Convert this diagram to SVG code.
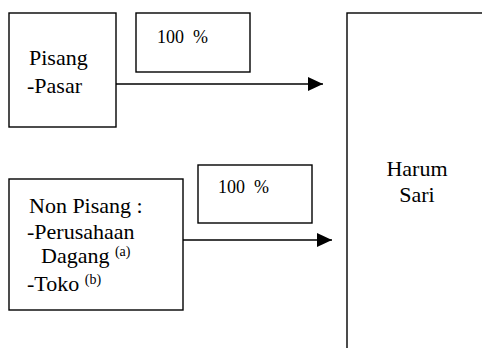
<svg xmlns="http://www.w3.org/2000/svg" width="482" height="348" viewBox="0 0 482 348">
<defs>
<marker id="ah" markerWidth="15" markerHeight="14" refX="15" refY="7" orient="auto" markerUnits="userSpaceOnUse">
<path d="M0,0 L15,7 L0,14 Z" fill="#000"/>
</marker>
</defs>
<rect width="482" height="348" fill="#fff"/>
<g id="pisang">
<rect x="9" y="13" width="107" height="114" fill="#fff" stroke="#000" stroke-width="1.4"/>
<text x="29" y="65" font-family="'Liberation Serif', Tinos, 'Times New Roman', serif" font-size="22">Pisang</text>
<text x="27" y="93" font-family="'Liberation Serif', Tinos, 'Times New Roman', serif" font-size="22">-Pasar</text>
</g>
<g id="label1">
<rect x="136" y="13" width="114" height="59" fill="#fff" stroke="#000" stroke-width="1.4"/>
<text x="157" y="43" font-family="'Liberation Serif', Tinos, 'Times New Roman', serif" font-size="18">100<tspan x="193">%</tspan></text>
</g>
<g id="nonpisang">
<rect x="9" y="179" width="174" height="131" fill="#fff" stroke="#000" stroke-width="1.4"/>
<text x="29" y="213" font-family="'Liberation Serif', Tinos, 'Times New Roman', serif" font-size="22">Non Pisang :</text>
<text x="27" y="239" font-family="'Liberation Serif', Tinos, 'Times New Roman', serif" font-size="22">-Perusahaan</text>
<text x="41" y="263" font-family="'Liberation Serif', Tinos, 'Times New Roman', serif" font-size="22">Dagang <tspan font-size="14" dy="-7">(a)</tspan></text>
<text x="27" y="291" font-family="'Liberation Serif', Tinos, 'Times New Roman', serif" font-size="22">-Toko <tspan font-size="14" dy="-7">(b)</tspan></text>
</g>
<g id="label2">
<rect x="198" y="165" width="114" height="58" fill="#fff" stroke="#000" stroke-width="1.4"/>
<text x="218" y="193" font-family="'Liberation Serif', Tinos, 'Times New Roman', serif" font-size="18">100<tspan x="254">%</tspan></text>
</g>
<g id="harumsari">
<rect x="347" y="13" width="145" height="345" fill="#fff" stroke="#000" stroke-width="1.4"/>
<text x="417" y="176" font-family="'Liberation Serif', Tinos, 'Times New Roman', serif" font-size="22" text-anchor="middle">Harum</text>
<text x="417" y="202" font-family="'Liberation Serif', Tinos, 'Times New Roman', serif" font-size="22" text-anchor="middle">Sari</text>
</g>
<g id="connectors" stroke="#000" stroke-width="1.4">
<line x1="116" y1="84" x2="323" y2="84" marker-end="url(#ah)"/>
<line x1="183" y1="240" x2="332" y2="240" marker-end="url(#ah)"/>
</g>
</svg>
